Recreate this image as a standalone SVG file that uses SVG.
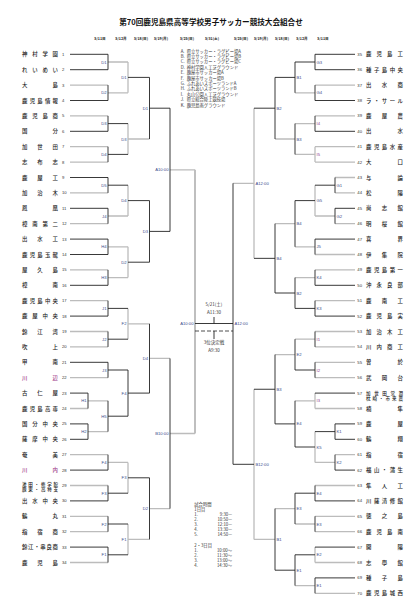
<svg xmlns="http://www.w3.org/2000/svg" width="420" height="611" viewBox="0 0 420 611">
<style>
.nm{font-family:"Noto Sans CJK JP","Noto Sans CJK SC",sans-serif;font-size:5.4px;font-weight:500;fill:#1a1a1a}
.nm2{font-size:4.5px}
.pk{fill:#a0408a}
.no{font-family:"Liberation Sans",Arial,sans-serif;font-size:4.2px;fill:#333}
.lb{font-family:"Liberation Sans",Arial,sans-serif;font-size:4.2px;fill:#3b4b8a}
.e{text-anchor:end}
.pu{fill:#8a3a8a}
.k{fill:none;stroke:#222;stroke-width:0.9}
.g{fill:none;stroke:#bcbcbc;stroke-width:1.3}
.gt{fill:none;stroke:#bcbcbc;stroke-width:1.9}
.d{fill:none;stroke:#222;stroke-width:0.8;stroke-dasharray:4 2}
.tt{font-family:"Noto Sans CJK JP",sans-serif;font-weight:bold;font-size:7.6px;fill:#111;text-anchor:middle}
.dt{font-family:"Noto Sans CJK JP",sans-serif;font-weight:bold;font-size:3.6px;fill:#222;text-anchor:middle}
.lg{font-family:"Noto Sans CJK JP",sans-serif;font-size:4.3px;fill:#333}
.c{font-family:"Noto Sans CJK JP",sans-serif;font-size:4.5px;fill:#333;text-anchor:middle}
</style>
<rect width="420" height="611" fill="#fff"/>
<text class="tt" x="211" y="25">第70回鹿児島県高等学校男子サッカー競技大会組合せ</text>
<g id="dates">
<text class="dt" x="100" y="39.5">5/11日</text>
<text class="dt" x="121" y="39.5">5/12月</text>
<text class="dt" x="141" y="39.5">5/18(日)</text>
<text class="dt" x="161" y="39.5">5/19(月)</text>
<text class="dt" x="187" y="39.5">5/25(日)</text>
<text class="dt" x="212" y="39.5">5/31(土)</text>
<text class="dt" x="241" y="39.5">5/25(日)</text>
<text class="dt" x="261" y="39.5">5/19(月)</text>
<text class="dt" x="282" y="39.5">5/18(日)</text>
<text class="dt" x="302" y="39.5">5/12月</text>
<text class="dt" x="323" y="39.5">5/11日</text>
</g>
<g id="legend">
<text class="lg" x="180.7" y="52.5">A.</text><text class="lg" x="186.7" y="52.5">県立サッカー・ラグビー場A</text>
<text class="lg" x="180.7" y="57.9">B.</text><text class="lg" x="186.7" y="57.9">県立サッカー・ラグビー場B</text>
<text class="lg" x="180.7" y="63.3">C.</text><text class="lg" x="186.7" y="63.3">県立サッカー・ラグビー場C</text>
<text class="lg" x="180.7" y="68.7">D.</text><text class="lg" x="186.7" y="68.7">神村学園人工芝グラウンド</text>
<text class="lg" x="180.7" y="74.1">E.</text><text class="lg" x="186.7" y="74.1">鹿屋市サッカー場A</text>
<text class="lg" x="180.7" y="79.5">F.</text><text class="lg" x="186.7" y="79.5">鹿屋市サッカー場B</text>
<text class="lg" x="180.7" y="84.9">G.</text><text class="lg" x="186.7" y="84.9">ふれあいスポーツランドA</text>
<text class="lg" x="180.7" y="90.3">H.</text><text class="lg" x="186.7" y="90.3">ふれあいスポーツランドB</text>
<text class="lg" x="180.7" y="95.7">I.</text><text class="lg" x="186.7" y="95.7">丸山公園人工芝グラウンド</text>
<text class="lg" x="180.7" y="101.1">J.</text><text class="lg" x="186.7" y="101.1">県立総合陸上競技場</text>
<text class="lg" x="180.7" y="106.5">K.</text><text class="lg" x="186.7" y="106.5">鹿児島南グラウンド</text>
</g>
<g id="connectors">
<path class="g" d="M70 85.1H108M70 115.9H108M70 146.7H108M70 162.1H108M70 192.9H108M70 223.7H108M70 269.9H108M70 300.7H108M70 331.5H108M70 346.9H108M70 377.7H108M70 454.7H108M70 485.5H108M70 516.3H108M70 531.7H108M70 562.5H108M70 408.5H88"/>
<path class="g" d="M108 62H128M108 92.8H128M108 216H128M108 246.8H128M108 277.6H128M108 462.4H128M88 400.8H108M88 431.6H108"/>
<path class="g" d="M128 62V92.8M128 123.6V154.4M128 185.2V216M128 246.8V277.6M128 308.4V339.2M128 462.4V493.2M128 524V554.8"/>
<path class="g" d="M128 139H149.5M128 323.8H149.5M128 539.4H149.5M149.5 358.45H170M149.5 508.6H170M170 169.8H195M170 433.5H195"/>
<path class="gt" d="M195 169.8V433.5"/>
<path class="k" d="M70 54.3H108M70 69.7H108M70 100.5H108M70 131.3H108M70 177.5H108M70 208.3H108M70 239.1H108M70 254.5H108M70 285.3H108M70 316.1H108M70 362.3H108M70 470.1H108M70 500.9H108M70 547.1H108M70 393.1H88M70 423.9H88M70 439.3H88"/>
<path class="k" d="M108 54.3V69.7M108 85.1V100.5M108 115.9V131.3M108 146.7V162.1M108 177.5V192.9M108 208.3V223.7M108 239.1V254.5M108 269.9V285.3M108 300.7V316.1M108 331.5V346.9M108 362.3V377.7M108 400.8V431.6M108 454.7V470.1M108 485.5V500.9M108 516.3V531.7M108 547.1V562.5M88 393.1V408.5M88 423.9V439.3"/>
<path class="k" d="M108 123.6H128M108 154.4H128M108 185.2H128M108 308.4H128M108 339.2H128M108 370H128M108 416.2H128M108 493.2H128M108 524H128M108 554.8H128M128 370V416.2"/>
<path class="k" d="M128 77.4H149.5M128 200.6H149.5M128 262.2H149.5M128 393.1H149.5M128 477.8H149.5M149.5 77.4V139M149.5 200.6V262.2M149.5 323.8V393.1M149.5 477.8V539.4"/>
<path class="k" d="M149.5 108.2H170M149.5 231.4H170M170 108.2V231.4M170 358.45V508.6M195 323.5H233"/>
<path class="g" d="M315 85.1H355M315 115.9H355M315 146.7H355M315 162.1H355M315 254.5H355M315 269.9H355M315 300.7H355M315 331.5H355M315 346.9H355M315 362.3H355M315 377.7H355M315 408.5H355M315 485.5H355M315 516.3H355M315 531.7H355M315 562.5H355M315 593.3H355M335 177.5H355M335 192.9H355M335 223.7H355M335 454.7H355"/>
<path class="g" d="M315 146.7V162.1M315 185.2V216M315 393.1V408.5M315 431.6V462.4M315 547.1V562.5M315 216H335M315 462.4H335"/>
<path class="g" d="M295 92.8H315M295 123.6H315M295 154.4H315M295 246.8H315M295 277.6H315M295 339.2H315M295 400.8H315M295 524H315M295 585.6H315"/>
<path class="g" d="M275 139H295M275 223.7H295M275 354.6H295M275 508.6H295M254 539.4H275M254 108.2V258.35M254 389.25V539.4M233 183.3H254"/>
<path class="k" d="M315 54.3H355M315 69.7H355M315 100.5H355M315 131.3H355M315 239.1H355M315 285.3H355M315 316.1H355M315 393.1H355M315 500.9H355M315 547.1H355M315 577.9H355M335 208.3H355M335 423.9H355M335 439.3H355M335 470.1H355"/>
<path class="k" d="M315 54.3V69.7M315 85.1V100.5M315 115.9V131.3M315 239.1V254.5M315 269.9V285.3M315 300.7V316.1M315 331.5V346.9M315 362.3V377.7M315 485.5V500.9M315 516.3V531.7M315 577.9V593.3M335 177.5V192.9M335 208.3V223.7M335 423.9V439.3M335 454.7V470.1M315 185.2H335M315 431.6H335"/>
<path class="k" d="M295 62H315M295 200.6H315M295 308.4H315M295 370H315M295 447H315M295 493.2H315M295 554.8H315"/>
<path class="k" d="M295 62V92.8M295 123.6V154.4M295 200.6V246.8M295 277.6V308.4M295 339.2V370M295 400.8V447M295 493.2V524M295 554.8V585.6"/>
<path class="k" d="M275 77.4H295M275 293H295M275 423.9H295M275 570.2H295M275 77.4V139M275 223.7V293M275 354.6V423.9M275 508.6V570.2"/>
<path class="k" d="M254 108.2H275M254 258.35H275M254 389.25H275M233 464.3H254M233 183.3V464.3"/>
<path class="k" d="M214 317V323.5M214 331V339"/>
<path class="d" d="M195 331H233"/>
</g>
<g id="match-labels">
<g class="lb e">
<text x="106.5" y="63.5">D1</text><text x="106.5" y="94.3">D2</text><text x="106.5" y="125.1">D3</text><text x="106.5" y="155.9">D4</text><text x="106.5" y="186.7">D5</text><text x="106.5" y="217.5">J4</text><text x="106.5" y="248.3">H4</text><text x="106.5" y="279.1">H3</text><text x="106.5" y="309.9">J1</text><text x="106.5" y="340.7">J2</text><text x="106.5" y="371.5">J3</text><text x="106.5" y="417.7">H5</text><text x="106.5" y="463.9">F4</text><text x="106.5" y="494.7">F3</text><text x="106.5" y="525.5">F2</text><text x="106.5" y="556.3">F1</text>
<text x="86.5" y="402.3">H1</text><text x="86.5" y="433.1">H2</text>
<text x="126.5" y="78.9">D1</text><text x="126.5" y="140.5">D3</text><text x="126.5" y="202.1">D4</text><text x="126.5" y="263.7">D2</text><text x="126.5" y="325.3">F2</text><text x="126.5" y="394.6">F4</text><text x="126.5" y="479.3">F3</text><text x="126.5" y="540.9">F1</text>
<text x="148" y="109.7">D1</text><text x="148" y="232.9">D3</text><text x="148" y="359.9">D4</text><text x="148" y="510.1">D2</text>
<text x="168.5" y="171.3">A10:00</text><text x="168.5" y="435">B10:00</text>
<text x="193.5" y="325">A10:00</text>
</g>
<g class="lb">
<text x="316.5" y="63.5">G3</text><text x="316.5" y="94.3">G4</text><text class="pu" x="316.5" y="125.1">I4</text><text class="pu" x="316.5" y="155.9">I5</text><text x="316.5" y="202.1">G5</text><text x="316.5" y="248.3">J5</text><text x="316.5" y="279.1">K4</text><text x="316.5" y="309.9">K3</text><text class="pu" x="316.5" y="340.7">I1</text><text class="pu" x="316.5" y="371.5">I2</text><text class="pu" x="316.5" y="402.3">I3</text><text x="316.5" y="448.5">K5</text><text x="316.5" y="494.7">E4</text><text x="316.5" y="525.5">E3</text><text x="316.5" y="556.3">E2</text><text x="316.5" y="587.1">E1</text>
<text x="336.5" y="186.7">G1</text><text x="336.5" y="217.5">G2</text><text x="336.5" y="433.1">K1</text><text x="336.5" y="463.9">K2</text>
<text x="296.5" y="78.9">B1</text><text x="296.5" y="140.5">B3</text><text x="296.5" y="225.2">B4</text><text x="296.5" y="294.5">B2</text><text x="296.5" y="356.1">E2</text><text x="296.5" y="425.4">E4</text><text x="296.5" y="510.1">E3</text><text x="296.5" y="571.7">E1</text>
<text x="276.5" y="109.7">B2</text><text x="276.5" y="259.9">B4</text><text x="276.5" y="390.8">B3</text><text x="276.5" y="540.9">B1</text>
<text x="255.5" y="184.8">A12:00</text><text x="255.5" y="465.8">B12:00</text>
<text x="234.5" y="325">A12:00</text>
</g>
</g>
<g id="final-info">
<text class="c" x="214" y="305.5">5/21(土)</text>
<text class="c" x="214" y="313.5">A11:30</text>
<text class="c" x="214" y="344">3位決定戦</text>
<text class="c" x="214" y="352">A9:30</text>
</g>
<g id="times" class="lg">
<text x="194.3" y="505.5">試合時間</text>
<text x="194.3" y="510.5">1日目</text>
<text x="194.3" y="516">1.</text><text class="e" x="232" y="516">9:30—</text>
<text x="194.3" y="521">2.</text><text class="e" x="232" y="521">10:50—</text>
<text x="194.3" y="526">3.</text><text class="e" x="232" y="526">12:10—</text>
<text x="194.3" y="531">4.</text><text class="e" x="232" y="531">13:30—</text>
<text x="194.3" y="536">5.</text><text class="e" x="232" y="536">14:50—</text>
<text x="194.3" y="547.3">2・3日目</text>
<text x="194.3" y="552.3">1.</text><text class="e" x="232" y="552.3">10:00〜</text>
<text x="194.3" y="557.3">2.</text><text class="e" x="232" y="557.3">11:30〜</text>
<text x="194.3" y="562.3">3.</text><text class="e" x="232" y="562.3">13:00〜</text>
<text x="194.3" y="567.3">4.</text><text class="e" x="232" y="567.3">14:30〜</text>
</g>
<g id="teams-left">
<g id="t1"><text class="nm" x="22" y="56.3" textLength="36" lengthAdjust="spacing">神村学園</text><text class="no" x="62" y="55.8">1</text></g>
<g id="t2"><text class="nm" x="22" y="71.7" textLength="36" lengthAdjust="spacing">れいめい</text><text class="no" x="62" y="71.2">2</text></g>
<g id="t3"><text class="nm" x="22" y="87.1" textLength="36" lengthAdjust="spacing">大島</text><text class="no" x="62" y="86.6">3</text></g>
<g id="t4"><text class="nm" x="22" y="102.5" textLength="36" lengthAdjust="spacing">鹿児島情報</text><text class="no" x="62" y="102">4</text></g>
<g id="t5"><text class="nm" x="22" y="117.9" textLength="36" lengthAdjust="spacing">鹿児島商</text><text class="no" x="62" y="117.4">5</text></g>
<g id="t6"><text class="nm" x="22" y="133.3" textLength="36" lengthAdjust="spacing">国分</text><text class="no" x="62" y="132.8">6</text></g>
<g id="t7"><text class="nm" x="22" y="148.7" textLength="36" lengthAdjust="spacing">加世田</text><text class="no" x="62" y="148.2">7</text></g>
<g id="t8"><text class="nm" x="22" y="164.1" textLength="36" lengthAdjust="spacing">志布志</text><text class="no" x="62" y="163.6">8</text></g>
<g id="t9"><text class="nm" x="22" y="179.5" textLength="36" lengthAdjust="spacing">鹿屋工</text><text class="no" x="62" y="179">9</text></g>
<g id="t10"><text class="nm" x="22" y="194.9" textLength="36" lengthAdjust="spacing">加治木</text><text class="no" x="62" y="194.4">10</text></g>
<g id="t11"><text class="nm" x="22" y="210.3" textLength="36" lengthAdjust="spacing">鳳凰</text><text class="no" x="62" y="209.8">11</text></g>
<g id="t12"><text class="nm" x="22" y="225.7" textLength="36" lengthAdjust="spacing">樟南第二</text><text class="no" x="62" y="225.2">12</text></g>
<g id="t13"><text class="nm" x="22" y="241.1" textLength="36" lengthAdjust="spacing">出水工</text><text class="no" x="62" y="240.6">13</text></g>
<g id="t14"><text class="nm" x="22" y="256.5" textLength="36" lengthAdjust="spacing">鹿児島玉龍</text><text class="no" x="62" y="256">14</text></g>
<g id="t15"><text class="nm" x="22" y="271.9" textLength="36" lengthAdjust="spacing">屋久島</text><text class="no" x="62" y="271.4">15</text></g>
<g id="t16"><text class="nm" x="22" y="287.3" textLength="36" lengthAdjust="spacing">樟南</text><text class="no" x="62" y="286.8">16</text></g>
<g id="t17"><text class="nm" x="22" y="302.7" textLength="36" lengthAdjust="spacing">鹿児島中央</text><text class="no" x="62" y="302.2">17</text></g>
<g id="t18"><text class="nm" x="22" y="318.1" textLength="36" lengthAdjust="spacing">鹿屋中央</text><text class="no" x="62" y="317.6">18</text></g>
<g id="t19"><text class="nm" x="22" y="333.5" textLength="36" lengthAdjust="spacing">錦江湾</text><text class="no" x="62" y="333">19</text></g>
<g id="t20"><text class="nm" x="22" y="348.9" textLength="36" lengthAdjust="spacing">吹上</text><text class="no" x="62" y="348.4">20</text></g>
<g id="t21"><text class="nm" x="22" y="364.3" textLength="36" lengthAdjust="spacing">甲南</text><text class="no" x="62" y="363.8">21</text></g>
<g id="t22"><text class="nm pk" x="22" y="379.7" textLength="36" lengthAdjust="spacing">川辺</text><text class="no" x="62" y="379.2">22</text></g>
<g id="t23"><text class="nm" x="22" y="395.1" textLength="36" lengthAdjust="spacing">古仁屋</text><text class="no" x="62" y="394.6">23</text></g>
<g id="t24"><text class="nm" x="22" y="410.5" textLength="36" lengthAdjust="spacing">鹿児島高専</text><text class="no" x="62" y="410">24</text></g>
<g id="t25"><text class="nm" x="22" y="425.9" textLength="36" lengthAdjust="spacing">国分中央</text><text class="no" x="62" y="425.4">25</text></g>
<g id="t26"><text class="nm" x="22" y="441.3" textLength="36" lengthAdjust="spacing">薩摩中央</text><text class="no" x="62" y="440.8">26</text></g>
<g id="t27"><text class="nm" x="22" y="456.7" textLength="36" lengthAdjust="spacing">奄美</text><text class="no" x="62" y="456.2">27</text></g>
<g id="t28"><text class="nm pk" x="22" y="472.1" textLength="36" lengthAdjust="spacing">川内</text><text class="no" x="62" y="471.6">28</text></g>
<g id="t29"><text class="nm nm2" x="22" y="485.9" textLength="36" lengthAdjust="spacing">池田・修学館</text><text class="nm nm2" x="22" y="491.3" textLength="36" lengthAdjust="spacing">鹿東・高特支</text><text class="no" x="62" y="487">29</text></g>
<g id="t30"><text class="nm" x="22" y="502.9" textLength="36" lengthAdjust="spacing">出水中央</text><text class="no" x="62" y="502.4">30</text></g>
<g id="t31"><text class="nm" x="22" y="518.3" textLength="36" lengthAdjust="spacing">鶴丸</text><text class="no" x="62" y="517.8">31</text></g>
<g id="t32"><text class="nm" x="22" y="533.7" textLength="36" lengthAdjust="spacing">指宿商</text><text class="no" x="62" y="533.2">32</text></g>
<g id="t33"><text class="nm" x="22" y="549.1" textLength="36" lengthAdjust="spacing">錦江・串良商</text><text class="no" x="62" y="548.6">33</text></g>
<g id="t34"><text class="nm" x="22" y="564.5" textLength="36" lengthAdjust="spacing">鹿児島</text><text class="no" x="62" y="564">34</text></g>
</g>
<g id="teams-right">
<g id="t35"><text class="no" x="357.3" y="55.8">35</text><text class="nm" x="366" y="56.3" textLength="37" lengthAdjust="spacing">鹿児島工</text></g>
<g id="t36"><text class="no" x="357.3" y="71.2">36</text><text class="nm" x="366" y="71.7" textLength="37" lengthAdjust="spacing">種子島中央</text></g>
<g id="t37"><text class="no" x="357.3" y="86.6">37</text><text class="nm" x="366" y="87.1" textLength="37" lengthAdjust="spacing">出水商</text></g>
<g id="t38"><text class="no" x="357.3" y="102">38</text><text class="nm" x="366" y="102.5" textLength="37" lengthAdjust="spacing">ラ・サール</text></g>
<g id="t39"><text class="no" x="357.3" y="117.4">39</text><text class="nm" x="366" y="117.9" textLength="37" lengthAdjust="spacing">鹿屋農</text></g>
<g id="t40"><text class="no" x="357.3" y="132.8">40</text><text class="nm" x="366" y="133.3" textLength="37" lengthAdjust="spacing">出水</text></g>
<g id="t41"><text class="no" x="357.3" y="148.2">41</text><text class="nm" x="366" y="148.7" textLength="37" lengthAdjust="spacing">鹿児島水産</text></g>
<g id="t42"><text class="no" x="357.3" y="163.6">42</text><text class="nm" x="366" y="164.1" textLength="37" lengthAdjust="spacing">大口</text></g>
<g id="t43"><text class="no" x="357.3" y="179">43</text><text class="nm" x="366" y="179.5" textLength="37" lengthAdjust="spacing">与論</text></g>
<g id="t44"><text class="no" x="357.3" y="194.4">44</text><text class="nm" x="366" y="194.9" textLength="37" lengthAdjust="spacing">松陽</text></g>
<g id="t45"><text class="no" x="357.3" y="209.8">45</text><text class="nm" x="366" y="210.3" textLength="37" lengthAdjust="spacing">尚志館</text></g>
<g id="t46"><text class="no" x="357.3" y="225.2">46</text><text class="nm" x="366" y="225.7" textLength="37" lengthAdjust="spacing">明桜館</text></g>
<g id="t47"><text class="no" x="357.3" y="240.6">47</text><text class="nm" x="366" y="241.1" textLength="37" lengthAdjust="spacing">喜界</text></g>
<g id="t48"><text class="no" x="357.3" y="256">48</text><text class="nm" x="366" y="256.5" textLength="37" lengthAdjust="spacing">伊集院</text></g>
<g id="t49"><text class="no" x="357.3" y="271.4">49</text><text class="nm" x="366" y="271.9" textLength="37" lengthAdjust="spacing">鹿児島第一</text></g>
<g id="t50"><text class="no" x="357.3" y="286.8">50</text><text class="nm" x="366" y="287.3" textLength="37" lengthAdjust="spacing">沖永良部</text></g>
<g id="t51"><text class="no" x="357.3" y="302.2">51</text><text class="nm" x="366" y="302.7" textLength="37" lengthAdjust="spacing">鹿南工</text></g>
<g id="t52"><text class="no" x="357.3" y="317.6">52</text><text class="nm" x="366" y="318.1" textLength="37" lengthAdjust="spacing">鹿児島実</text></g>
<g id="t53"><text class="no" x="357.3" y="333">53</text><text class="nm" x="366" y="333.5" textLength="37" lengthAdjust="spacing">加治木工</text></g>
<g id="t54"><text class="no" x="357.3" y="348.4">54</text><text class="nm" x="366" y="348.9" textLength="37" lengthAdjust="spacing">川内商工</text></g>
<g id="t55"><text class="no" x="357.3" y="363.8">55</text><text class="nm" x="366" y="364.3" textLength="37" lengthAdjust="spacing">曽於</text></g>
<g id="t56"><text class="no" x="357.3" y="379.2">56</text><text class="nm" x="366" y="379.7" textLength="37" lengthAdjust="spacing">武岡台</text></g>
<g id="t57"><text class="no" x="357.3" y="394.6">57</text><text class="nm nm2" x="366" y="394.6" textLength="37" lengthAdjust="spacing">加世田常潤</text><text class="nm nm2" x="366" y="400.3" textLength="37" lengthAdjust="spacing">枕崎・市来農</text></g>
<g id="t58"><text class="no" x="357.3" y="410">58</text><text class="nm" x="366" y="410.5" textLength="37" lengthAdjust="spacing">楠隼</text></g>
<g id="t59"><text class="no" x="357.3" y="425.4">59</text><text class="nm" x="366" y="425.9" textLength="37" lengthAdjust="spacing">鹿屋</text></g>
<g id="t60"><text class="no" x="357.3" y="440.8">60</text><text class="nm" x="366" y="441.3" textLength="37" lengthAdjust="spacing">鶴翔</text></g>
<g id="t61"><text class="no" x="357.3" y="456.2">61</text><text class="nm" x="366" y="456.7" textLength="37" lengthAdjust="spacing">指宿</text></g>
<g id="t62"><text class="no" x="357.3" y="471.6">62</text><text class="nm" x="366" y="472.1" textLength="37" lengthAdjust="spacing">福山・蒲生</text></g>
<g id="t63"><text class="no" x="357.3" y="487">63</text><text class="nm" x="366" y="487.5" textLength="37" lengthAdjust="spacing">隼人工</text></g>
<g id="t64"><text class="no" x="357.3" y="502.4">64</text><text class="nm" x="366" y="502.9" textLength="37" lengthAdjust="spacing">川薩清修館</text></g>
<g id="t65"><text class="no" x="357.3" y="517.8">65</text><text class="nm" x="366" y="518.3" textLength="37" lengthAdjust="spacing">徳之島</text></g>
<g id="t66"><text class="no" x="357.3" y="533.2">66</text><text class="nm" x="366" y="533.7" textLength="37" lengthAdjust="spacing">鹿児島南</text></g>
<g id="t67"><text class="no" x="357.3" y="548.6">67</text><text class="nm" x="366" y="549.1" textLength="37" lengthAdjust="spacing">開陽</text></g>
<g id="t68"><text class="no" x="357.3" y="564">68</text><text class="nm" x="366" y="564.5" textLength="37" lengthAdjust="spacing">志學館</text></g>
<g id="t69"><text class="no" x="357.3" y="579.4">69</text><text class="nm" x="366" y="579.9" textLength="37" lengthAdjust="spacing">種子島</text></g>
<g id="t70"><text class="no" x="357.3" y="594.8">70</text><text class="nm" x="366" y="595.3" textLength="37" lengthAdjust="spacing">鹿児島城西</text></g>
</g>
</svg>
